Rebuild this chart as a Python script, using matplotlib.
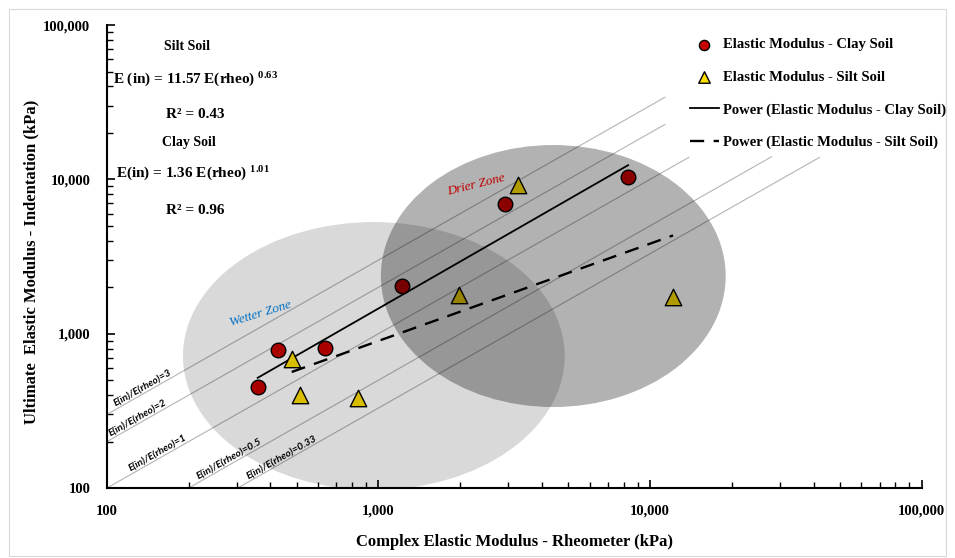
import numpy as np
import matplotlib
matplotlib.use('Agg')
import matplotlib.pyplot as plt
from matplotlib.patches import Ellipse, Rectangle
from matplotlib.ticker import FuncFormatter, LogLocator, NullFormatter

# data (kPa)
clay_rheo = [359, 425, 638, 1225, 2930, 8300]
clay_ind = [451, 782, 806, 2030, 6890, 10300]
silt_rheo = [479, 512, 837, 1985, 3270, 12160]
silt_ind = [684, 400, 383, 1775, 9140, 1723]

# power fits E(in) = a * E(rheo)^b
clay_fit = (1.36, 1.01)
silt_fit = (11.57, 0.63)

# reference ratio lines E(in)/E(rheo) = k
ratios = [3, 2, 1, 0.5, 0.33]
ratio_names = ['3', '2', '1', '0.5', '0.33']
ratio_xend = [11350, 11350, 13900, 28000, 42000]
ratio_xlab = [138, 133, 157, 288, 451]

plt.rcParams['font.family'] = 'Liberation Serif'
plt.rcParams['mathtext.fontset'] = 'custom'
plt.rcParams['mathtext.rm'] = 'Liberation Serif:bold'
plt.rcParams['mathtext.it'] = 'Liberation Serif:bold'

fig = plt.figure(figsize=(9.55, 5.58), dpi=100)
ax = fig.add_axes([0.112, 0.1254, 0.853, 0.8297])
ax.set_xscale('log')
ax.set_yscale('log')
ax.set_xlim(100, 100000)
ax.set_ylim(100, 100000)

# ratio lines
for k, xe, xl, nm in zip(ratios, ratio_xend, ratio_xlab, ratio_names):
    xs = max(100, 100 / k)
    xx = np.array([xs, xe])
    ax.plot(xx, k * xx, color='#b4b4b4', lw=0.8, zorder=2)
    ax.text(xl, k * xl, 'E(in)/E(rheo)=' + nm, rotation=29.6, rotation_mode='anchor',
            ha='center', va='bottom', fontsize=7.3, fontweight='bold',
            family='Lato', style='italic', zorder=6)

# trend lines
xc = np.array([min(clay_rheo), max(clay_rheo)])
ax.plot(xc, clay_fit[0] * xc ** clay_fit[1], color='black', lw=1.3, zorder=3,
        label='Power (Elastic Modulus - Clay Soil)')
xs_ = np.linspace(min(silt_rheo), max(silt_rheo), 50)
ax.plot(xs_, silt_fit[0] * xs_ ** silt_fit[1], color='black', lw=1.7, ls=(0, (6, 4)),
        zorder=3, label='Power (Elastic Modulus - Silt Soil)')

ax.scatter(clay_rheo, clay_ind, s=110, marker='o', facecolor='#c80000', edgecolor='black',
           lw=1.0, zorder=4, label='Elastic Modulus - Clay Soil')
ax.scatter(silt_rheo, silt_ind, s=140, marker='^', facecolor='#ffdf00', edgecolor='black',
           lw=1.0, zorder=4, label='Elastic Modulus - Silt Soil')

# translucent zones drawn over the points
ax.add_patch(Ellipse((0.3276, 0.2851), 0.4687, 0.5788, transform=ax.transAxes,
                     facecolor='black', alpha=0.15, edgecolor='none', zorder=5))
ax.add_patch(Ellipse((0.5479, 0.4579), 0.4233, 0.5659, transform=ax.transAxes,
                     facecolor='black', alpha=0.30, edgecolor='none', zorder=5))

ax.text(0.188, 0.377, 'Wetter Zone', transform=ax.transAxes, rotation=17, color='#0070c0',
        fontsize=9.5, style='italic', ha='center', va='center', zorder=7)
ax.text(0.453, 0.654, 'Drier Zone', transform=ax.transAxes, rotation=14, color='#c00000',
        fontsize=9.5, style='italic', ha='center', va='center', zorder=7)

# equation text
eq = [('Silt Soil', 187, 47, 10), ('E (in) = 11.57 E(rheo) $^{0.63}$', 196, 80, 11),
      ('R² = 0.43', 195, 115, 11), ('Clay Soil', 189, 142, 10),
      ('E(in) = 1.36 E(rheo) $^{1.01}$', 193, 174, 11), ('R² = 0.96', 195, 210, 11)]
for s, px, py, fs in eq:
    fig.text(px / 955, 1 - py / 558, s, ha='center', va='center', fontsize=fs,
             fontweight='bold')

# axes styling
for sp in ['top', 'right']:
    ax.spines[sp].set_visible(False)
for sp in ['left', 'bottom']:
    ax.spines[sp].set_linewidth(1.5)
ax.xaxis.set_major_locator(LogLocator(base=10))
ax.yaxis.set_major_locator(LogLocator(base=10))
ax.xaxis.set_minor_locator(LogLocator(base=10, subs=np.arange(2, 10)))
ax.yaxis.set_minor_locator(LogLocator(base=10, subs=np.arange(2, 10)))
fmt = FuncFormatter(lambda v, p: f'{v:,.0f}')
ax.xaxis.set_major_formatter(fmt)
ax.yaxis.set_major_formatter(fmt)
ax.xaxis.set_minor_formatter(NullFormatter())
ax.yaxis.set_minor_formatter(NullFormatter())
ax.tick_params(which='major', direction='in', length=6, width=1.2, labelsize=10.5, pad=12)
ax.tick_params(which='minor', direction='in', length=4, width=1.0)
for lab in ax.get_xticklabels() + ax.get_yticklabels():
    lab.set_fontweight('bold')

ax.set_xlabel('Complex Elastic Modulus - Rheometer (kPa)', fontsize=12, fontweight='bold')
ax.set_ylabel('Ultimate  Elastic Modulus - Indentation (kPa)', fontsize=12, fontweight='bold')
ax.xaxis.set_label_coords(0.5, -0.10)
ax.yaxis.set_label_coords(-0.083, 0.488)

h, l = ax.get_legend_handles_labels()
order = [2, 3, 0, 1]
leg = ax.legend([h[i] for i in order], [l[i] for i in order], loc='upper left',
                bbox_to_anchor=(0.699, 1.0), frameon=False, markerscale=0.7,
                labelspacing=1.32, handlelength=2.0, handletextpad=0.3,
                prop={'weight': 'bold', 'size': 10.5})

fig.add_artist(Rectangle((9 / 955, 2 / 558), 937 / 955, 547 / 558, transform=fig.transFigure,
                         fill=False, edgecolor='#d9d9d9', lw=0.8))

plt.savefig('out.png', dpi=100)
